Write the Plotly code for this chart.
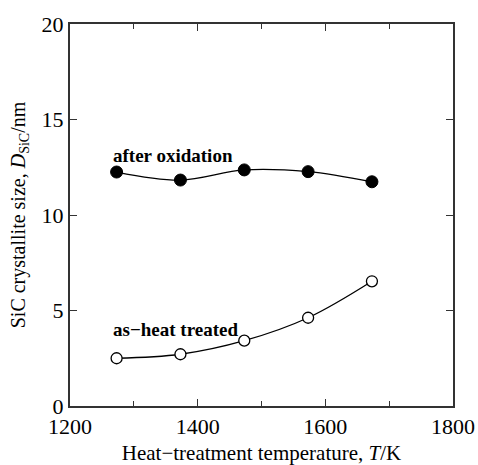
import plotly.graph_objects as go

# Heat-treatment temperature (K)
temperature = [1273, 1373, 1473, 1573, 1673]
# SiC crystallite size (nm)
size_after_oxidation = [12.25, 11.83, 12.36, 12.27, 11.74]
size_as_treated = [2.50, 2.71, 3.42, 4.62, 6.53]

x_ticks = [1200, 1400, 1600, 1800]
y_ticks = [0, 5, 10, 15, 20]

font_family = "Liberation Serif, Times New Roman, serif"

fig = go.Figure()

fig.add_trace(go.Scatter(
    x=temperature, y=size_after_oxidation,
    mode="lines+markers",
    line=dict(color="black", width=1.3, shape="spline", smoothing=1.0),
    marker=dict(symbol="circle", size=12, color="black",
                line=dict(color="black", width=1)),
    showlegend=False,
))

fig.add_trace(go.Scatter(
    x=temperature, y=size_as_treated,
    mode="lines+markers",
    line=dict(color="black", width=1.3, shape="spline", smoothing=1.0),
    marker=dict(symbol="circle", size=11, color="white",
                line=dict(color="black", width=1.3)),
    showlegend=False,
))

fig.add_annotation(x=1264, y=13.1, xanchor="left", yanchor="middle",
                   text="<b>after oxidation</b>", showarrow=False,
                   font=dict(family=font_family, size=19, color="black"))
fig.add_annotation(x=1264, y=3.98, xanchor="left", yanchor="middle",
                   text="<b>as\u2212heat treated</b>", showarrow=False,
                   font=dict(family=font_family, size=19, color="black"))

axis_common = dict(
    showline=True, linecolor="#333", linewidth=2, mirror="ticks",
    ticks="inside", ticklen=7, tickwidth=1.2, tickcolor="#333",
    showgrid=False, zeroline=False, automargin=False,
    tickfont=dict(family=font_family, size=22, color="black"),
)

fig.update_xaxes(
    range=[1200, 1800], tickvals=x_ticks,
    minor=dict(ticks="inside", ticklen=5, tickwidth=1, tickcolor="#333", dtick=100, tick0=1200),
    title=dict(text="Heat\u2212treatment temperature, <i>T</i>/K",
               font=dict(family=font_family, size=21, color="black"), standoff=14),
    **axis_common,
)
fig.update_yaxes(
    range=[0, 20], tickvals=y_ticks,
    title=dict(text="SiC crystallite size, <i>D</i><sub>SiC</sub>/nm",
               font=dict(family=font_family, size=20, color="black"), standoff=11),
    **axis_common,
)

fig.update_layout(
    width=478, height=465,
    margin=dict(l=70, r=25, t=24, b=59),
    paper_bgcolor="white", plot_bgcolor="white",
)

fig.write_html("out.html")
